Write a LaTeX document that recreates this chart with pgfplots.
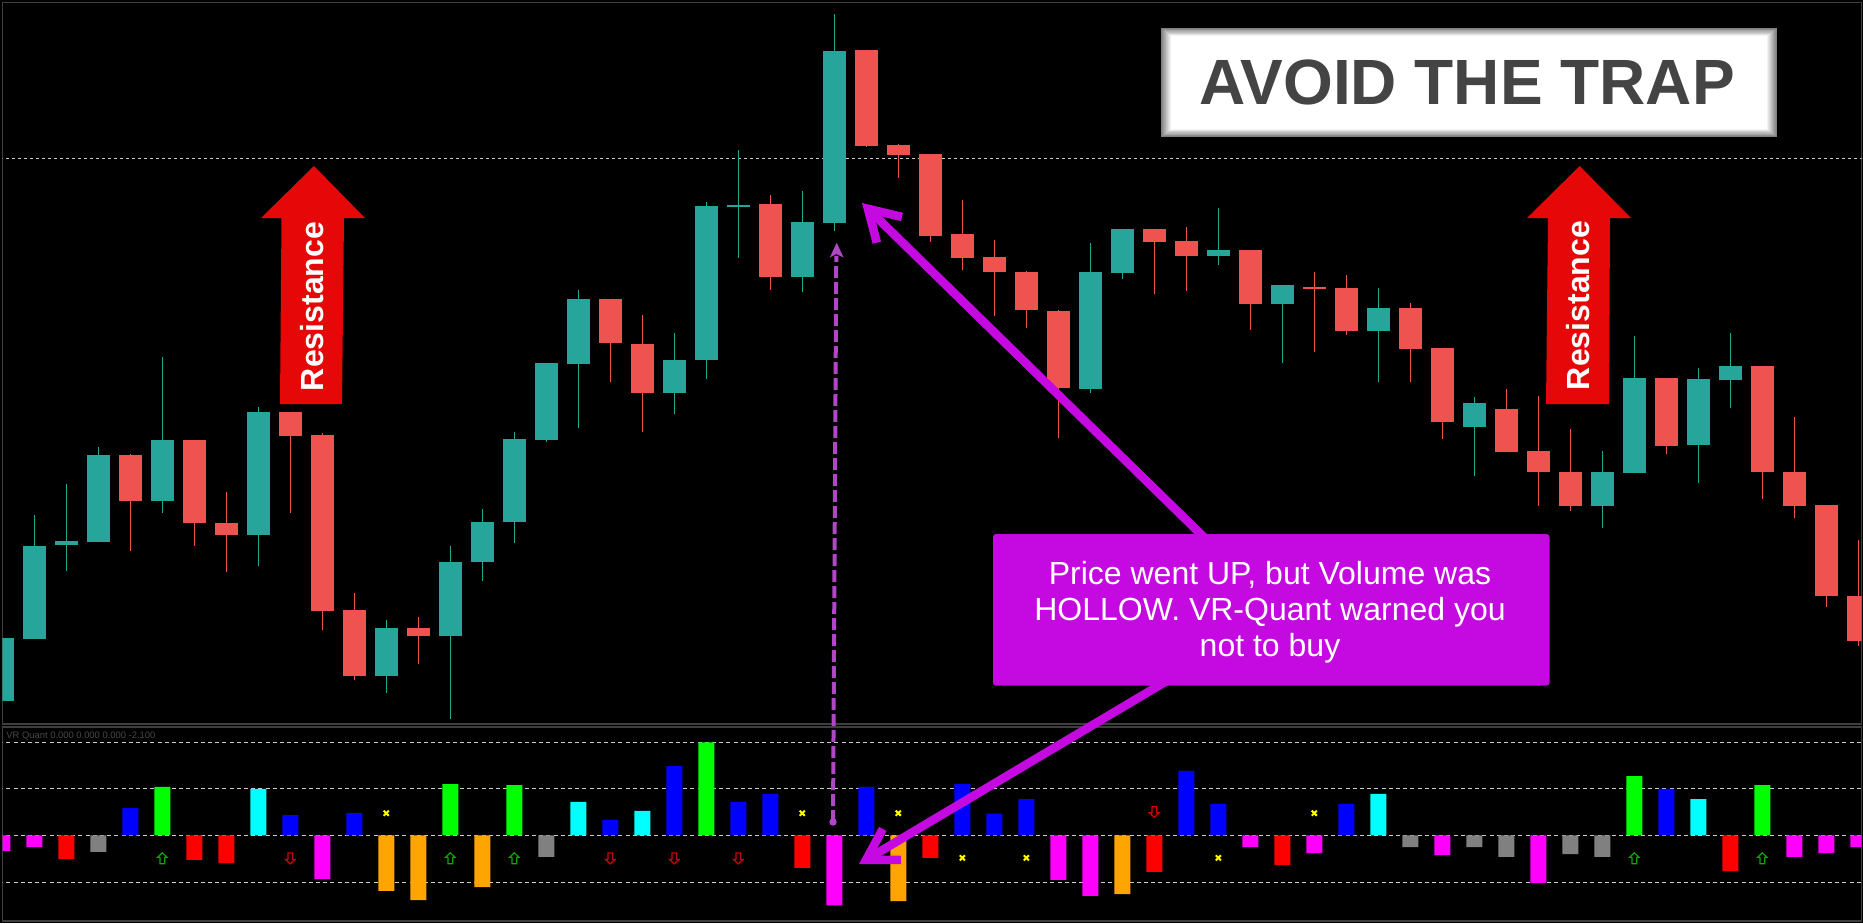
\documentclass[border=0pt]{standalone}
\usepackage{pgfplots}
\pgfplotsset{compat=1.18}
\usepackage{pgfplotstable}
\usepackage{fontspec}
\setmainfont{Liberation Sans}
\usetikzlibrary{arrows.meta}

\definecolor{bullc}{RGB}{38,166,154}
\definecolor{bearc}{RGB}{239,83,80}
\definecolor{framec}{RGB}{62,62,62}
\definecolor{vmag}{RGB}{255,0,255}
\definecolor{vred}{RGB}{255,0,0}
\definecolor{vgray}{RGB}{128,128,128}
\definecolor{vblue}{RGB}{0,0,255}
\definecolor{vgreen}{RGB}{0,255,0}
\definecolor{vcyan}{RGB}{0,255,255}
\definecolor{vorange}{RGB}{255,165,0}
\definecolor{vyellow}{RGB}{255,255,0}
\definecolor{upgreen}{RGB}{0,170,0}
\definecolor{dnred}{RGB}{210,0,0}
\definecolor{callout}{RGB}{196,10,224}
\definecolor{orchidc}{RGB}{178,70,200}
\definecolor{resred}{RGB}{230,8,8}
\definecolor{titlec}{RGB}{68,68,68}
\definecolor{lvl}{RGB}{205,205,205}

\pgfdeclareplotmark{hup}{%
  \pgfpathmoveto{\pgfqpoint{0pt}{2.8pt}}%
  \pgfpathlineto{\pgfqpoint{2.4pt}{0.5pt}}%
  \pgfpathlineto{\pgfqpoint{1.2pt}{0.5pt}}%
  \pgfpathlineto{\pgfqpoint{1.2pt}{-2.7pt}}%
  \pgfpathlineto{\pgfqpoint{-1.2pt}{-2.7pt}}%
  \pgfpathlineto{\pgfqpoint{-1.2pt}{0.5pt}}%
  \pgfpathlineto{\pgfqpoint{-2.4pt}{0.5pt}}%
  \pgfpathclose
  \pgfusepathqstroke}
\pgfdeclareplotmark{hdown}{%
  \pgfpathmoveto{\pgfqpoint{0pt}{-2.8pt}}%
  \pgfpathlineto{\pgfqpoint{2.4pt}{-0.5pt}}%
  \pgfpathlineto{\pgfqpoint{1.2pt}{-0.5pt}}%
  \pgfpathlineto{\pgfqpoint{1.2pt}{2.7pt}}%
  \pgfpathlineto{\pgfqpoint{-1.2pt}{2.7pt}}%
  \pgfpathlineto{\pgfqpoint{-1.2pt}{-0.5pt}}%
  \pgfpathlineto{\pgfqpoint{-2.4pt}{-0.5pt}}%
  \pgfpathclose
  \pgfusepathqstroke}

% candles: k open high low close
\pgfplotstableread{
k o h l c
0 222 285 222 285
1 284 408 284 377
2 378 439 352 382
3 381 476 381 468
5 422 566 410 483
8 388 516 357 511
12 247 303 230 295
14 287 377 204 361
15 361 414 342 401
16 401 491 380 484
17 483 560 481 560
18 559 633 495 624
21 530 590 509 563
22 563 721 544 717
23 716 773 665 718
25 646 732 631 701
26 700 909 692 872
34 534 680 530 651
35 650 694 644 694
38 667 715 658 673
40 619 638 560 638
43 592 635 541 615
46 496 526 447 520
50 417 472 395 451
51 450 587 450 545
53 478 555 440 544
54 543 590 515 557
}\bulldata

\pgfplotstableread{
k o h l c
4 468 469 372 422
6 483 483 377 400
7 400 431 351 388
9 511 511 410 487
10 488 490 293 312
11 313 330 243 247
13 295 306 259 287
19 624 624 541 580
20 579 608 491 530
24 719 728 633 646
27 873 873 776 777
28 778 779 745 768
29 769 769 681 687
30 689 723 653 665
31 666 683 607 651
32 651 652 595 613
33 612 613 485 535
36 694 694 629 681
37 682 696 632 667
39 673 673 593 619
41 636 651 571 634
42 635 648 588 592
44 615 620 541 574
45 575 575 484 501
47 514 534 471 471
48 472 527 417 451
49 451 494 412 417
52 545 545 469 477
55 557 557 424 451
56 451 506 405 417
57 418 418 316 327
58 327 383 277 282
}\beardata

\pgfplotsset{
  wick/.style={draw=none, mark=none, forget plot,
    error bars/.cd, y dir=both, y explicit, error mark=none,
    error bar style={draw=#1, line width=0.6pt}},
  body/.style={draw=none, mark=none, forget plot,
    error bars/.cd, y dir=both, y explicit, error mark=none,
    error bar style={draw=#1, line width=11.5pt}},
  vbar/.style={ybar, bar width=8pt, bar shift=0pt, fill=#1, draw=none, forget plot},
}

\begin{document}
\begin{tikzpicture}
\useasboundingbox (0,0) rectangle (931.5pt,-461.5pt);
\fill[black] (0,0) rectangle (931.5pt,-461.5pt);

% ---------------- price panel
\begin{axis}[at={(1.25pt,-1.15pt)}, anchor=north west, scale only axis,
  width=929.6pt, height=360.85pt,
  xmin=0.00625, xmax=58.106, ymin=199, ymax=920.7,
  axis line style={framec, line width=0.7pt}, ticks=none]
\addplot[lvl, line width=0.5pt, dash pattern=on 1.5pt off 1.5pt, forget plot] coordinates {(-1,765) (60,765)};
\addplot[wick=bullc] table[x=k, y expr={(\thisrow{h}+\thisrow{l})/2}, y error expr={(\thisrow{h}-\thisrow{l})/2}] {\bulldata};
\addplot[wick=bearc] table[x=k, y expr={(\thisrow{h}+\thisrow{l})/2}, y error expr={(\thisrow{h}-\thisrow{l})/2}] {\beardata};
\addplot[body=bullc] table[x=k, y expr={(\thisrow{o}+\thisrow{c})/2}, y error expr={abs(\thisrow{c}-\thisrow{o})/2}] {\bulldata};
\addplot[body=bearc] table[x=k, y expr={(\thisrow{o}+\thisrow{c})/2}, y error expr={abs(\thisrow{c}-\thisrow{o})/2}] {\beardata};
\end{axis}

% ---------------- VR-Quant panel
\begin{axis}[at={(1.25pt,-363.5pt)}, anchor=north west, scale only axis,
  width=929.6pt, height=97pt,
  xmin=0.00625, xmax=58.106, ymin=-1.8234, ymax=2.3043,
  axis line style={framec, line width=0.7pt}, ticks=none]
\addplot[lvl, line width=0.6pt, dash pattern=on 2pt off 1.6pt, forget plot] coordinates {(-1,1.98) (60,1.98)};
\addplot[lvl, line width=0.6pt, dash pattern=on 2pt off 1.6pt, forget plot] coordinates {(-1,1) (60,1)};
\addplot[lvl, line width=0.6pt, dash pattern=on 2pt off 1.6pt, forget plot] coordinates {(-1,0) (60,0)};
\addplot[lvl, line width=0.6pt, dash pattern=on 2pt off 1.6pt, forget plot] coordinates {(-1,-1) (60,-1)};
\addplot[vbar=vmag] coordinates {(0,-0.33) (1,-0.25) (10,-0.93) (26,-1.49) (33,-0.95) (34,-1.29) (39,-0.25) (41,-0.38) (45,-0.42) (48,-1.01) (56,-0.46) (57,-0.38) (58,-0.25)};
\addplot[vbar=vred] coordinates {(2,-0.50) (6,-0.52) (7,-0.59) (25,-0.69) (29,-0.48) (36,-0.78) (40,-0.63) (54,-0.76)};
\addplot[vbar=vgray] coordinates {(3,-0.35) (17,-0.46) (44,-0.25) (46,-0.25) (47,-0.46) (49,-0.40) (50,-0.46)};
\addplot[vbar=vblue] coordinates {(4,0.58) (9,0.43) (11,0.47) (19,0.33) (21,1.47) (23,0.71) (24,0.88) (27,1.03) (30,1.09) (31,0.46) (32,0.77) (37,1.37) (38,0.67) (42,0.67) (52,0.99)};
\addplot[vbar=vgreen] coordinates {(5,1.03) (14,1.09) (16,1.07) (22,1.98) (51,1.26) (55,1.07)};
\addplot[vbar=vcyan] coordinates {(8,0.99) (18,0.71) (20,0.52) (43,0.88) (53,0.77)};
\addplot[vbar=vorange] coordinates {(12,-1.18) (13,-1.38) (15,-1.10) (28,-1.40) (35,-1.25)};
\addplot[only marks, mark=x, mark size=1.8pt, vyellow, line width=1pt, forget plot] coordinates {(12,0.47) (25,0.47) (28,0.47) (41,0.47) (30,-0.48) (32,-0.48) (38,-0.48)};
\addplot[only marks, mark=hup, upgreen, line width=0.6pt, forget plot] coordinates {(5,-0.49) (14,-0.49) (16,-0.49) (51,-0.49) (55,-0.49)};
\addplot[only marks, mark=hdown, dnred, line width=0.6pt, forget plot] coordinates {(9,-0.49) (19,-0.49) (21,-0.49) (23,-0.49) (36,0.50)};
\end{axis}

% ---------------- annotations (pixel units)
\begin{scope}[x=0.5pt, y=-0.5pt]
\node[anchor=base west, inner sep=0, text={rgb,255:red,72;green,72;blue,72},
  font=\fontsize{4.7pt}{5pt}\selectfont] at (6,738.7) {VR Quant 0.000 0.000 0.000 -2.100};

% title box with bevel
\foreach \i in {0,...,10}{
  \pgfmathsetmacro{\p}{\i*10}
  \fill[white!\p!gray] (1161+\i,28+\i*0.8) rectangle (1777-\i,137-\i*0.8);
}
\node[anchor=base, inner sep=0, text=titlec, font=\bfseries\fontsize{32pt}{36pt}\selectfont] at (1467,104) {AVOID THE TRAP};

% resistance arrows
\fill[resred] (314,166) -- (365,218) -- (344,218) -- (342,404) -- (280,404) -- (281.5,218) -- (261,218) -- cycle;
\node[rotate=90, anchor=base, inner sep=0, text=white, font=\bfseries\fontsize{16pt}{18pt}\selectfont] at (323.4,306.5) {Resistance};
\fill[resred] (1579.7,166) -- (1631,218) -- (1610,218) -- (1609,404) -- (1546,404) -- (1548,218) -- (1527,218) -- cycle;
\node[rotate=90, anchor=base, inner sep=0, text=white, font=\bfseries\fontsize{16pt}{18pt}\selectfont] at (1589.6,305.5) {Resistance};

% purple dashed pointer
\draw[orchidc, line width=2pt, dash pattern=on 6pt off 2pt] (833,822) -- (836.3,256);
\fill[orchidc] (836.7,242.7) -- (843.5,257.5) -- (836.5,254) -- (829.8,257.5) -- cycle;
\fill[orchidc] (833,822) circle (3.7);

% callout arrows
\draw[callout, line width=4.3pt, -{Straight Barb[length=15pt,width=18pt]}] (1215,548) -- (862,203);
\draw[callout, line width=4.3pt, -{Straight Barb[length=15pt,width=18pt]}] (1175,676) -- (859,864);

% callout box
\fill[callout, rounded corners=1.5pt] (993,534) rectangle (1549.5,685.5);
\node[anchor=base, inner sep=0, text=white, font=\fontsize{16pt}{18pt}\selectfont] at (1270,584) {Price went UP, but Volume was};
\node[anchor=base, inner sep=0, text=white, font=\fontsize{16pt}{18pt}\selectfont] at (1270,620) {HOLLOW. VR-Quant warned you};
\node[anchor=base, inner sep=0, text=white, font=\fontsize{16pt}{18pt}\selectfont] at (1270,656) {not to buy};
\end{scope}
\end{tikzpicture}
\end{document}
